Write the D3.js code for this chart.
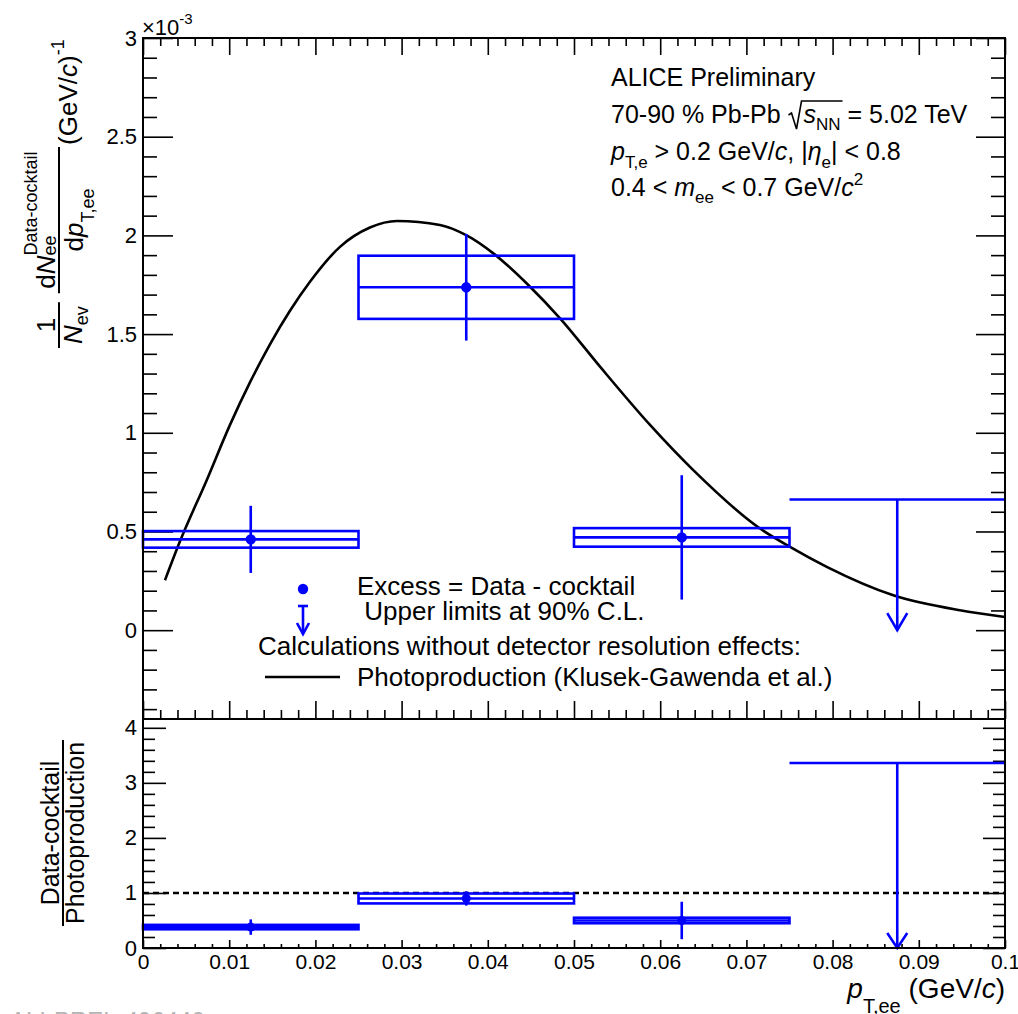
<!DOCTYPE html>
<html>
<head>
<meta charset="utf-8">
<script src="https://cdn.jsdelivr.net/npm/d3@7"></script>
<style>
  html, body { margin: 0; padding: 0; background: #fff; }
  svg text { font-family: "Liberation Sans", Arial, Helvetica, sans-serif; white-space: pre; fill: #000; }
</style>
</head>
<body>
<svg id="chart" width="1018" height="1014"></svg>
<script>
// ---------------- data ----------------
const binEdges = [0, 0.025, 0.05, 0.075, 0.1];
const binCenters = [0.0125, 0.0375, 0.0625];
// excess yield, in units of 10^-3 (GeV/c)^-1
const excess = [0.46, 1.737, 0.47];
const excessStat = [0.17, 0.27, 0.315];
const excessSys = [0.042, 0.16, 0.047];
const upperLimitBin = [0.075, 0.1];
const upperLimitCenter = 0.0875;
const upperLimit = 0.662;
// data / photoproduction
const ratio = [0.38, 0.90, 0.50];
const ratioStat = [0.14, 0.13, 0.34];
const ratioSys = [0.04, 0.09, 0.05];
const ratioUpperLimit = 3.36;
// photoproduction calculation (Klusek-Gawenda et al.)
const photoPt = [0.00255, 0.00429, 0.00739, 0.01009, 0.01241, 0.01473, 0.01705, 0.01937, 0.02285, 0.02633,
                 0.02947, 0.03445, 0.03755, 0.04064, 0.04490, 0.04838, 0.05302, 0.05882, 0.06384, 0.07158,
                 0.07506, 0.07932, 0.08704, 0.09478, 0.1];
const photoYield = [0.253, 0.45, 0.76, 1.04, 1.255, 1.448, 1.618, 1.765, 1.942, 2.04,
                    2.073, 2.053, 2.00, 1.909, 1.74, 1.58, 1.335, 1.04, 0.811, 0.515,
                    0.422, 0.321, 0.177, 0.101, 0.067];
// axes
const xTickValues = [0, 0.01, 0.02, 0.03, 0.04, 0.05, 0.06, 0.07, 0.08, 0.09, 0.1];
const xTickLabels = ["0", "0.01", "0.02", "0.03", "0.04", "0.05", "0.06", "0.07", "0.08", "0.09", "0.1"];
const yTopTickValues = [0, 0.5, 1, 1.5, 2, 2.5, 3];
const yTopTickLabels = ["0", "0.5", "1", "1.5", "2", "2.5", "3"];
const yBotTickValues = [0, 1, 2, 3, 4];
const yBotTickLabels = ["0", "1", "2", "3", "4"];

// ---------------- layout ----------------
const L = 143, R = 1005, T = 38, M = 719, B = 948;
const BLUE = "#0000ff";
const svg = d3.select("#chart");

const x = d3.scaleLinear([0, 0.1], [L, R]);
const yTop = d3.scaleLinear([-0.45, 3], [M, T]);
const yBot = d3.scaleLinear([0, 4.16], [B, M]);

const xMinor = d3.range(0, 51).filter(i => i % 5 !== 0).map(i => i / 500);
const yTopMinor = d3.range(-4, 31).filter(i => i % 5 !== 0).map(i => i / 10);
const yBotMinor = d3.range(0, 21).filter(i => i % 5 !== 0).map(i => i / 5);

function drawAxis(orient, scale, values, size, transform, labels, fontSize) {
  const make = { left: d3.axisLeft, right: d3.axisRight, top: d3.axisTop, bottom: d3.axisBottom }[orient];
  const gen = make(scale).tickValues(values).tickSize(-size).tickPadding(6)
    .tickFormat(labels ? (d, i) => labels[i] : () => "");
  const g = svg.append("g").attr("transform", transform).call(gen);
  g.select(".domain").remove();
  g.selectAll(".tick line").attr("stroke", "#000").attr("stroke-width", 1.6);
  g.selectAll(".tick text").style("font-size", (fontSize || 22) + "px");
  return g;
}

// rich text: consecutive runs with font-size / italic / baseline shift
function runs(parent, x0, y0, parts, size) {
  let xp = x0, held = 0;
  parts.forEach(p => {
    const fs = p.s || size;
    const t = parent.append("text").attr("x", xp).attr("y", y0 + (p.dy || 0))
      .style("font-size", fs + "px").text(p.t);
    if (p.i) t.style("font-style", "italic");
    const w = t.node().getComputedTextLength();
    p.x0 = xp; p.x1 = xp + w;
    if (p.hold) { held = w; } else { xp += Math.max(w, held); held = 0; }
  });
  return xp - x0;
}

// ---------------- top panel ----------------
drawAxis("left", yTop, yTopTickValues, 30, `translate(${L},0)`, yTopTickLabels, 22);
drawAxis("left", yTop, yTopMinor, 14, `translate(${L},0)`, null);
drawAxis("right", yTop, yTopTickValues, 29, `translate(${R},0)`, null);
drawAxis("right", yTop, yTopMinor, 14, `translate(${R},0)`, null);
drawAxis("top", x, xTickValues, 17, `translate(0,${T})`, null);
drawAxis("top", x, xMinor, 8, `translate(0,${T})`, null);
drawAxis("bottom", x, xTickValues, 18, `translate(0,${M})`, null);
drawAxis("bottom", x, xMinor, 9, `translate(0,${M})`, null);

// ×10^-3 multiplier
runs(svg, 142, 35, [{ t: "×10" }, { t: "-3", s: 15, dy: -11 }], 22);

// photoproduction curve
const curve = d3.line().x((d, i) => x(photoPt[i])).y(d => yTop(d)).curve(d3.curveMonotoneX);
svg.append("path").attr("d", curve(photoYield))
  .attr("fill", "none").attr("stroke", "#000").attr("stroke-width", 2.6);

// systematic boxes, bin widths, statistical errors, markers
const gTop = svg.append("g").attr("stroke", BLUE).attr("stroke-width", 2.6).attr("fill", "none");
excess.forEach((v, i) => {
  const x0 = x(binEdges[i]), x1 = x(binEdges[i + 1]), cx = x(binCenters[i]);
  gTop.append("rect").attr("x", x0).attr("width", x1 - x0)
    .attr("y", yTop(v + excessSys[i])).attr("height", yTop(v - excessSys[i]) - yTop(v + excessSys[i]));
  gTop.append("line").attr("x1", x0).attr("x2", x1).attr("y1", yTop(v)).attr("y2", yTop(v));
  gTop.append("line").attr("x1", cx).attr("x2", cx)
    .attr("y1", yTop(v + excessStat[i])).attr("y2", yTop(v - excessStat[i]));
  svg.append("circle").attr("cx", cx).attr("cy", yTop(v)).attr("r", 5.2).attr("fill", BLUE);
});

// upper limit (90% C.L.)
{
  const yl = yTop(upperLimit), y0 = yTop(0), cx = x(upperLimitCenter);
  gTop.append("line").attr("x1", x(upperLimitBin[0])).attr("x2", x(upperLimitBin[1])).attr("y1", yl).attr("y2", yl);
  gTop.append("line").attr("x1", cx).attr("x2", cx).attr("y1", yl).attr("y2", y0);
  gTop.append("polyline").attr("points", `${cx - 10},${y0 - 17} ${cx},${y0} ${cx + 10},${y0 - 17}`);
}

// frame
svg.append("rect").attr("x", L).attr("y", T).attr("width", R - L).attr("height", M - T)
  .attr("fill", "none").attr("stroke", "#000").attr("stroke-width", 2);

// ---------------- bottom panel ----------------
drawAxis("left", yBot, yBotTickValues, 23, `translate(${L},0)`, yBotTickLabels, 22);
drawAxis("left", yBot, yBotMinor, 12, `translate(${L},0)`, null);
drawAxis("right", yBot, yBotTickValues, 22, `translate(${R},0)`, null);
drawAxis("right", yBot, yBotMinor, 12, `translate(${R},0)`, null);
drawAxis("bottom", x, xTickValues, 8, `translate(0,${B})`, xTickLabels, 21);
drawAxis("bottom", x, xMinor, 4, `translate(0,${B})`, null);

// unity reference
svg.append("line").attr("x1", L).attr("x2", R).attr("y1", yBot(1)).attr("y2", yBot(1))
  .attr("stroke", "#000").attr("stroke-width", 2.4).attr("stroke-dasharray", "6,4");

const gBot = svg.append("g").attr("stroke", BLUE).attr("stroke-width", 2.6).attr("fill", "none");
ratio.forEach((v, i) => {
  const x0 = x(binEdges[i]), x1 = x(binEdges[i + 1]), cx = x(binCenters[i]);
  gBot.append("rect").attr("x", x0).attr("width", x1 - x0)
    .attr("y", yBot(v + ratioSys[i])).attr("height", yBot(v - ratioSys[i]) - yBot(v + ratioSys[i]));
  gBot.append("line").attr("x1", x0).attr("x2", x1).attr("y1", yBot(v)).attr("y2", yBot(v));
  gBot.append("line").attr("x1", cx).attr("x2", cx)
    .attr("y1", yBot(v + ratioStat[i])).attr("y2", yBot(v - ratioStat[i]));
  svg.append("circle").attr("cx", cx).attr("cy", yBot(v)).attr("r", 4.5).attr("fill", BLUE);
});
{
  const yl = yBot(ratioUpperLimit), y0 = yBot(0), cx = x(upperLimitCenter);
  gBot.append("line").attr("x1", x(upperLimitBin[0])).attr("x2", x(upperLimitBin[1])).attr("y1", yl).attr("y2", yl);
  gBot.append("line").attr("x1", cx).attr("x2", cx).attr("y1", yl).attr("y2", y0);
  gBot.append("polyline").attr("points", `${cx - 10},${y0 - 15} ${cx},${y0} ${cx + 10},${y0 - 15}`);
}

svg.append("rect").attr("x", L).attr("y", M).attr("width", R - L).attr("height", B - M)
  .attr("fill", "none").attr("stroke", "#000").attr("stroke-width", 2);

// ---------------- axis titles ----------------
// x title, right-aligned to the frame
{
  const g = svg.append("g");
  const w = runs(g, 0, 998, [{ t: "p", i: 1 }, { t: "T,ee", s: 20, dy: 15 }, { t: " (GeV/" }, { t: "c", i: 1 }, { t: ")" }], 28);
  g.attr("transform", `translate(${R - w},0)`);
}

// rotated frame: local x = -screen y, local y = screen x
const rot = svg.append("g").attr("transform", "rotate(-90)");

function fraction(parent, start, lineY, numParts, numY, denParts, denY, size, pad) {
  const gn = parent.append("g"), gd = parent.append("g");
  const wn = runs(gn, 0, numY, numParts, size);
  const wd = runs(gd, 0, denY, denParts, size);
  const len = Math.max(wn, wd) + pad;
  const c = start + len / 2;
  gn.attr("transform", `translate(${c - wn / 2},0)`);
  gd.attr("transform", `translate(${c - wd / 2},0)`);
  parent.append("line").attr("x1", start).attr("x2", start + len).attr("y1", lineY).attr("y2", lineY)
    .attr("stroke", "#000").attr("stroke-width", 2);
  return len;
}

// top panel y title
{
  let pos = -348;
  pos += fraction(rot, pos, 59, [{ t: "1" }], 55, [{ t: "N", i: 1 }, { t: "ev", s: 18, dy: 6 }], 82, 26, 8) + 9;
  pos += fraction(rot, pos, 59,
    [{ t: "d" }, { t: "N", i: 1 }, { t: "ee", s: 18, dy: 1, hold: 1 }, { t: "Data-cocktail", s: 18, dy: -18 }], 55,
    [{ t: "d" }, { t: "p", i: 1 }, { t: "T,ee", s: 18, dy: 11 }], 83, 26, 9) + 2;
  runs(rot, pos, 77, [{ t: "(GeV/" }, { t: "c", i: 1 }, { t: ")" }, { t: "-1", s: 18, dy: -13 }], 26);
}

// bottom panel y title
{
  const g = rot.append("g");
  const len = fraction(g, 0, 63, [{ t: "Data-cocktail" }], 59, [{ t: "Photoproduction" }], 84, 25, 4);
  g.attr("transform", `translate(${-833 - len / 2},0)`);
}

// ---------------- labels ----------------
{
  const g = svg.append("g");
  runs(g, 611, 86, [{ t: "ALICE Preliminary" }], 25);
  // second line with the radical sign drawn over s_NN
  const g2 = g.append("g");
  const a = runs(g2, 611, 123, [{ t: "70-90 % Pb-Pb " }], 25);
  const rx = 611 + a + 1;
  const parts = [{ t: "s", i: 1 }, { t: "NN", s: 17, dy: 7 }, { t: " = 5.02 TeV" }];
  runs(g2, rx + 15, 123, parts, 25);
  const end = parts[1].x1 + 2;
  g2.append("path")
    .attr("d", `M${rx},${123 - 8} L${rx + 3},${123 - 10} L${rx + 8},${123 + 6} L${rx + 13},${123 - 22} H${end}`)
    .attr("fill", "none").attr("stroke", "#000").attr("stroke-width", 1.6);
  runs(g, 611, 160, [{ t: "p", i: 1 }, { t: "T,e", s: 17, dy: 8 }, { t: " > 0.2 GeV/" }, { t: "c", i: 1 },
    { t: ", |" }, { t: "η", i: 1 }, { t: "e", s: 17, dy: 8 }, { t: "| < 0.8" }], 25);
  runs(g, 611, 196, [{ t: "0.4 < " }, { t: "m", i: 1 }, { t: "ee", s: 17, dy: 7 }, { t: " < 0.7 GeV/" },
    { t: "c", i: 1 }, { t: "2", s: 17, dy: -11 }], 25);
}

// legend
{
  const g = svg.append("g");
  g.append("circle").attr("cx", 303).attr("cy", 589).attr("r", 5.2).attr("fill", BLUE);
  runs(g, 357, 595, [{ t: "Excess = Data - cocktail" }], 26);
  const ga = g.append("g").attr("stroke", BLUE).attr("stroke-width", 2.6).attr("fill", "none");
  ga.append("line").attr("x1", 298).attr("x2", 308).attr("y1", 606).attr("y2", 606);
  ga.append("line").attr("x1", 303).attr("x2", 303).attr("y1", 606).attr("y2", 634);
  ga.append("polyline").attr("points", "297,623 303,634 309,623");
  runs(g, 357, 620, [{ t: " Upper limits at 90% C.L." }], 26);
  runs(g, 258, 655, [{ t: "Calculations without detector resolution effects:" }], 26);
  g.append("line").attr("x1", 265).attr("x2", 340).attr("y1", 677).attr("y2", 677)
    .attr("stroke", "#000").attr("stroke-width", 2.6);
  runs(g, 357, 686, [{ t: "Photoproduction (Klusek-Gawenda et al.)" }], 26);
}

// figure id
svg.append("text").attr("x", 10).attr("y", 1029).style("font-size", "24px").style("fill", "#b4b4b4")
  .text("ALI-PREL-496440");
</script>
</body>
</html>
